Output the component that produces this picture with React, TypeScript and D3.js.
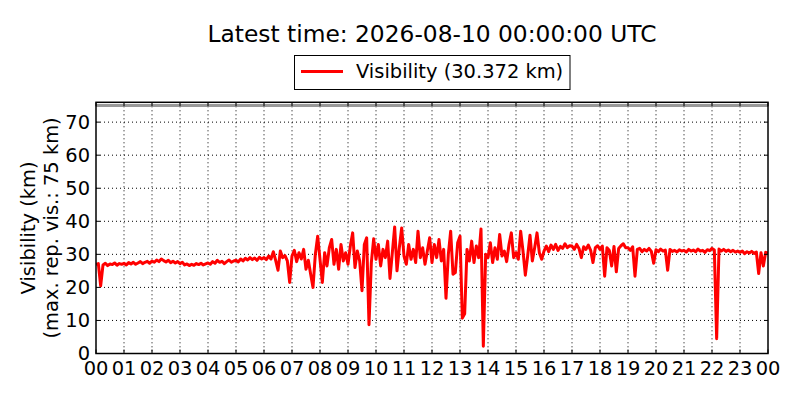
import React from 'react';
import * as d3 from 'd3';

// 5-minute visibility readings (km)
const visNight = [
  27.0, 27.2, 20.5, 26.8, 27.3, 26.6, 27.1, 26.9, 27.4, 26.7, 27.2, 27.0,
  27.3, 26.8, 27.5, 27.1, 27.6, 27.0, 27.4, 27.8, 27.2, 27.6, 27.9, 27.3,
  28.0, 27.6, 28.3, 27.8, 28.6, 28.1, 27.7, 28.2, 27.5, 27.9, 27.4, 27.8,
  27.2, 27.6, 26.8, 27.1, 26.6, 27.0, 26.7, 27.2, 26.9, 27.3, 26.8, 27.1,
  27.4, 27.0, 27.8, 27.3, 28.2, 27.6, 27.9, 27.2, 27.8, 28.3, 27.6, 28.0,
  28.2, 27.7, 28.6, 28.0, 28.8, 28.3, 29.0, 28.4, 28.9, 28.2, 29.1, 28.6,
];
const visMorning = [
  29.0, 28.4, 29.5, 28.6, 30.8, 28.2, 25.2, 31.0, 29.0, 29.6, 28.0, 21.5,
  29.5, 31.2, 27.8, 30.5, 28.6, 31.5, 25.5, 28.2, 24.0, 20.0, 30.0, 35.5,
  28.5, 21.5, 30.5, 26.5, 32.0, 34.5, 27.0, 31.5, 25.5, 33.0, 28.0, 30.5,
  27.0, 32.5, 36.5, 26.0, 31.0, 28.0, 19.0, 33.0, 35.0, 8.7, 27.5, 34.7,
  28.5, 33.0, 26.5, 31.5, 29.0, 34.0, 22.7, 30.5, 38.3, 25.0, 32.0, 38.0,
  29.5, 27.0, 33.0, 28.5, 31.5, 27.5, 37.0, 29.0, 32.0, 27.0, 31.0, 35.0,
];
const visAfternoon = [
  27.5, 33.0, 29.0, 34.5, 28.0, 31.5, 16.7, 30.0, 37.0, 24.0, 24.5, 33.5,
  35.5, 10.7, 12.0, 31.5, 28.0, 34.0, 27.5, 32.5, 29.0, 37.7, 2.2, 30.0,
  29.0, 33.5, 27.5, 32.0, 28.5, 36.0, 29.5, 31.0, 27.8, 33.0, 36.5, 29.0,
  30.5, 28.5, 37.0, 31.0, 23.7, 29.5, 35.8, 28.0, 32.0, 36.5, 30.5, 28.5,
  31.0, 32.5, 30.8, 32.8, 31.5, 33.0, 31.2, 32.4, 31.8, 33.2, 32.0, 32.6,
  32.5, 31.5, 33.0, 31.8, 29.0, 32.3, 31.5, 32.8, 31.2, 27.5, 32.0, 32.6,
];
const visEvening = [
  31.5, 32.5, 23.4, 32.0, 31.2, 26.5, 32.4, 24.7, 31.8, 32.6, 33.2, 32.0,
  32.0, 31.2, 32.3, 23.4, 31.5, 31.8, 30.8, 31.5, 31.0, 31.8, 30.9, 27.3,
  31.4, 30.8, 31.6, 31.0, 31.3, 25.2, 31.5, 30.9, 31.2, 30.7, 31.4, 31.0,
  31.2, 30.7, 31.5, 31.0, 31.3, 30.8, 31.6, 31.0, 31.2, 30.6, 31.4, 31.1,
  31.8, 31.3, 4.5, 31.6, 31.0, 31.5, 30.9, 31.3, 30.8, 31.2, 30.7, 31.0,
  30.6, 31.0, 30.2, 30.8, 30.4, 30.9, 30.3, 30.7, 24.2, 30.5, 26.5, 30.6,
];
const latestVis = 30.372;
const maxRepVis = 75;

const hourLabels = [
  '00', '01', '02', '03', '04', '05', '06', '07', '08', '09', '10', '11',
  '12', '13', '14', '15', '16', '17', '18', '19', '20', '21', '22', '23', '00',
];
const yTicks = [0, 10, 20, 30, 40, 50, 60, 70];

const font = '"DejaVu Sans", sans-serif';

export default function App() {
  const left = 96, right = 768, top = 102.3, bottom = 353.5;
  const visibility = [...visNight, ...visMorning, ...visAfternoon, ...visEvening, latestVis];

  const x = d3.scaleLinear().domain([0, 24]).range([left, right]);
  const y = d3.scaleLinear().domain([0, 76]).range([bottom, top]);

  const line = d3.line<number>()
    .x((_, i) => x((i * 5) / 60))
    .y((d) => y(d));

  const hours = d3.range(hourLabels.length);

  return (
    <svg width={800} height={400} style={{ position: 'absolute', left: 0, top: 0, background: '#fff' }}>
      <defs>
        <clipPath id="plot">
          <rect x={left} y={top} width={right - left} height={bottom - top} />
        </clipPath>
      </defs>
      <rect x={0} y={0} width={800} height={400} fill="#fff" />

      {/* grid */}
      {hours.slice(1, -1).map((h) => (
        <line key={'gx' + h} x1={x(h)} x2={x(h)} y1={top} y2={bottom}
          stroke="#000" strokeWidth={1} strokeDasharray="1,3" />
      ))}
      {yTicks.slice(1).map((t) => (
        <line key={'gy' + t} x1={left} x2={right} y1={y(t)} y2={y(t)}
          stroke="#000" strokeWidth={1} strokeDasharray="1,3" />
      ))}

      {/* max reported visibility */}
      <line x1={left} x2={right} y1={y(maxRepVis)} y2={y(maxRepVis)} stroke="#999" strokeWidth={3} />

      <path d={line(visibility) || ''} fill="none" stroke="#ff0000" strokeWidth={3}
        strokeLinejoin="round" clipPath="url(#plot)" />

      {/* ticks, inward on all sides */}
      {hours.map((h) => (
        <g key={'tx' + h}>
          <line x1={x(h)} x2={x(h)} y1={bottom} y2={bottom - 4} stroke="#000" />
          <line x1={x(h)} x2={x(h)} y1={top} y2={top + 4} stroke="#000" />
          <text x={x(h)} y={375} textAnchor="middle" fontFamily={font} fontSize={19.44}>
            {hourLabels[h]}
          </text>
        </g>
      ))}
      {yTicks.map((t) => (
        <g key={'ty' + t}>
          <line x1={left} x2={left + 4} y1={y(t)} y2={y(t)} stroke="#000" />
          <line x1={right} x2={right - 4} y1={y(t)} y2={y(t)} stroke="#000" />
          <text x={90} y={y(t)} dy="0.36em" textAnchor="end" fontFamily={font} fontSize={19.44}>
            {t}
          </text>
        </g>
      ))}

      <rect x={left} y={top} width={right - left} height={bottom - top} fill="none" stroke="#000" strokeWidth={1.5} />

      {/* y label */}
      <g transform={`translate(35,${(top + bottom) / 2}) rotate(-90)`} fontFamily={font} fontSize={19.44} textAnchor="middle">
        <text x={0} y={0}>Visibility (km)</text>
        <text x={0} y={22.5}>(max. rep. vis.: 75 km)</text>
      </g>

      {/* title */}
      <text x={(left + right) / 2} y={42} textAnchor="middle" fontFamily={font} fontSize={23.33}>
        Latest time: 2026-08-10 00:00:00 UTC
      </text>

      {/* legend */}
      <rect x={294.5} y={55.5} width={275.5} height={34} fill="#fff" stroke="#000" strokeWidth={1} />
      <line x1={301} x2={343} y1={71.5} y2={71.5} stroke="#ff0000" strokeWidth={3} />
      <text x={356} y={78} fontFamily={font} fontSize={19.44}>
        Visibility ({latestVis.toFixed(3)} km)
      </text>
    </svg>
  );
}
